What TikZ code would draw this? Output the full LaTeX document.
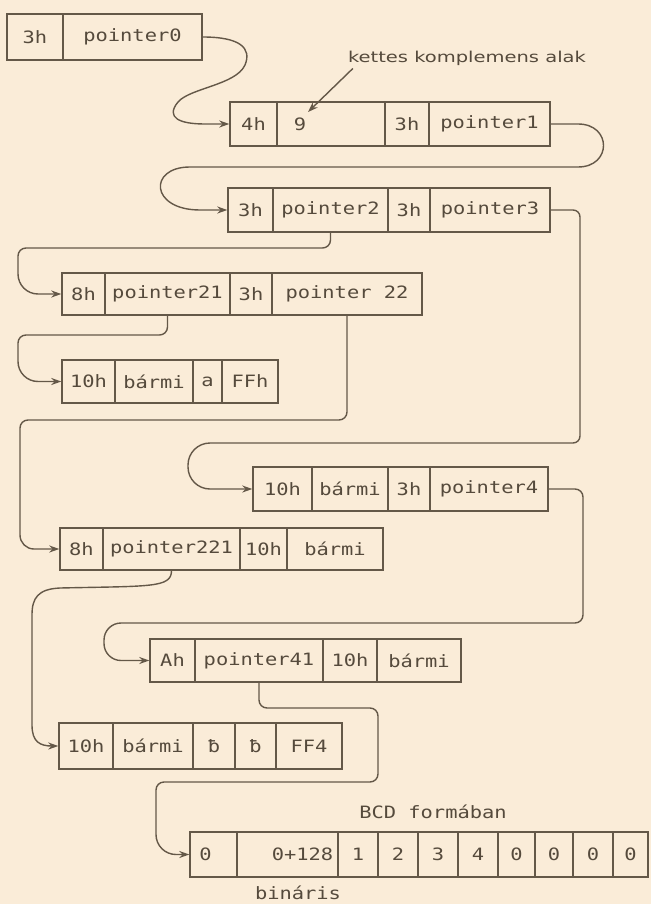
\documentclass[tikz,border=0pt]{standalone}
\usepackage{fontspec}
\usetikzlibrary{arrows.meta}
\newfontfamily\cellfont[FakeStretch=1.2]{DejaVu Sans Mono}
\newfontfamily\notefont[FakeStretch=1.3]{DejaVu Sans}
\definecolor{paper}{RGB}{250,236,216}
\definecolor{ink}{RGB}{100,88,72}
\definecolor{inktext}{RGB}{85,74,60}
\newcommand\mkcell[6]{\node[cell,minimum width={(#3-#2)*1pt},minimum height={(#5-#4)*1pt}] (#1) at ({(#2+#3)/2},{(#4+#5)/2}) {#6};}
\begin{document}
\begin{tikzpicture}[x=1pt,y=-1pt,
  cell/.style={draw=ink,line width=1.4pt,inner sep=0pt,text=inktext,font=\cellfont\fontsize{17}{17}\selectfont},
  conn/.style={draw=ink,line width=1.4pt},
  arr/.style={conn,-{Stealth[length=10pt,width=7pt]}},
  lbl/.style={text=inktext,font=\cellfont\fontsize{17}{17}\selectfont,inner sep=0pt},
  note/.style={text=inktext,font=\notefont\fontsize{15}{15}\selectfont,inner sep=0pt}]
\fill[paper] (0,0) rectangle (651,904);
\useasboundingbox (0,0) rectangle (651,904);

% row 1
\mkcell{r1a}{7}{63}{14}{60}{3h}
\mkcell{r1b}{63}{202}{14}{60}{pointer0}
% row 2
\mkcell{r2a}{230}{277}{102}{146}{4h}
\mkcell{r2b}{277}{385}{102}{146}{9\hspace*{62pt}}
\mkcell{r2c}{385}{429}{102}{146}{3h}
\mkcell{r2d}{429}{550}{102}{146}{pointer1}
% row 3
\mkcell{r3a}{228}{273}{188}{232}{3h}
\mkcell{r3b}{273}{388}{188}{232}{pointer2}
\mkcell{r3c}{388}{430}{188}{232}{3h}
\mkcell{r3d}{430}{550}{188}{232}{pointer3}
% row 4
\mkcell{r4a}{62}{105}{273}{315}{8h}
\mkcell{r4b}{105}{230}{273}{315}{pointer21}
\mkcell{r4c}{230}{272}{273}{315}{3h}
\mkcell{r4d}{272}{422}{273}{315}{pointer 22}
% row 5
\mkcell{r5a}{62}{115}{360}{403}{10h}
\mkcell{r5b}{115}{193}{360}{403}{bármi}
\mkcell{r5c}{193}{222}{360}{403}{a}
\mkcell{r5d}{222}{278}{360}{403}{FFh}
% row 6
\mkcell{r6a}{253}{312}{467}{511}{10h}
\mkcell{r6b}{312}{388}{467}{511}{bármi}
\mkcell{r6c}{388}{430}{467}{511}{3h}
\mkcell{r6d}{430}{548}{467}{511}{pointer4}
% row 7
\mkcell{r7a}{60}{103}{528}{570}{8h}
\mkcell{r7b}{103}{240}{528}{570}{pointer221}
\mkcell{r7c}{240}{287}{528}{570}{10h}
\mkcell{r7d}{287}{383}{528}{570}{bármi}
% row 8
\mkcell{r8a}{150}{195}{639}{682}{Ah}
\mkcell{r8b}{195}{323}{639}{682}{pointer41}
\mkcell{r8c}{323}{377}{639}{682}{10h}
\mkcell{r8d}{377}{461}{639}{682}{bármi}
% row 9
\mkcell{r9a}{59}{113}{723}{769}{10h}
\mkcell{r9b}{113}{193}{723}{769}{bármi}
\mkcell{r9c}{193}{235}{723}{769}{ƀ}
\mkcell{r9d}{235}{276}{723}{769}{ƀ}
\mkcell{r9e}{276}{342}{723}{769}{FF4}
% row 10
\mkcell{r10a}{190}{237}{832}{877}{0\hspace*{16pt}}
\mkcell{r10b}{237}{338}{832}{877}{\hspace*{30pt}0+128}
\mkcell{r10c}{338}{378}{832}{877}{1}
\mkcell{r10d}{378}{418}{832}{877}{2}
\mkcell{r10e}{418}{458}{832}{877}{3}
\mkcell{r10f}{458}{498}{832}{877}{4}
\mkcell{r10g}{498}{535}{832}{877}{0}
\mkcell{r10h}{535}{573}{832}{877}{0}
\mkcell{r10i}{573}{613}{832}{877}{0}
\mkcell{r10j}{613}{648}{832}{877}{0}

% labels
\node[note] (kk) at (467,58) {kettes komplemens alak};
\coordinate (nine) at (308,112);
\draw[arr] ([xshift=5pt,yshift=-3pt]kk.south west) -- (nine);
\node[lbl] (bcd) at (433,812) {BCD formában};
\node[lbl] (bin) at (298,893) {bináris};

% connectors
\draw[arr] (r1b.east) .. controls (240,37) and (252,48) .. (245,65)
  .. controls (236,85) and (190,88) .. (178,102)
  .. controls (165,118) and (180,124) .. (205,124) -- (r2a.west);
\draw[arr] (r2d.east) -- (578,124) .. controls (612,124) and (612,167) .. (578,167)
  -- (190,167) .. controls (148,167) and (150,210) .. (200,210) -- (r3a.west);
\draw[arr] (r3d.east) [rounded corners=7pt] -| (580,443) [rounded corners=22pt] -| (188,489) -- (r6a.west);
\draw[arr] (r3b.south) [rounded corners=8pt] |- (18,248) [rounded corners=20pt] |- (r4a.west);
\draw[arr] (r4b.south) [rounded corners=8pt] |- (18,335) [rounded corners=20pt] |- (r5a.west);
\draw[arr] (r4d.south) [rounded corners=8pt] |- (20,420) [rounded corners=14pt] |- (r7a.west);
\draw[arr] (r6d.east) [rounded corners=8pt] -| (583,623) [rounded corners=17pt] -| (104,660.5) -- (r8a.west);
\draw[arr] (r7b.south) .. controls (171.5,588) and (150,586) .. (60,588)
  .. controls (38,589) and (32,598) .. (32,615) -- (32,725)
  .. controls (32,742) and (40,746) .. (r9a.west);
\draw[arr] (r8b.south) [rounded corners=8pt] |- (378,708) |- (156,782) [rounded corners=20pt] |- (r10a.west);
\end{tikzpicture}
\end{document}
